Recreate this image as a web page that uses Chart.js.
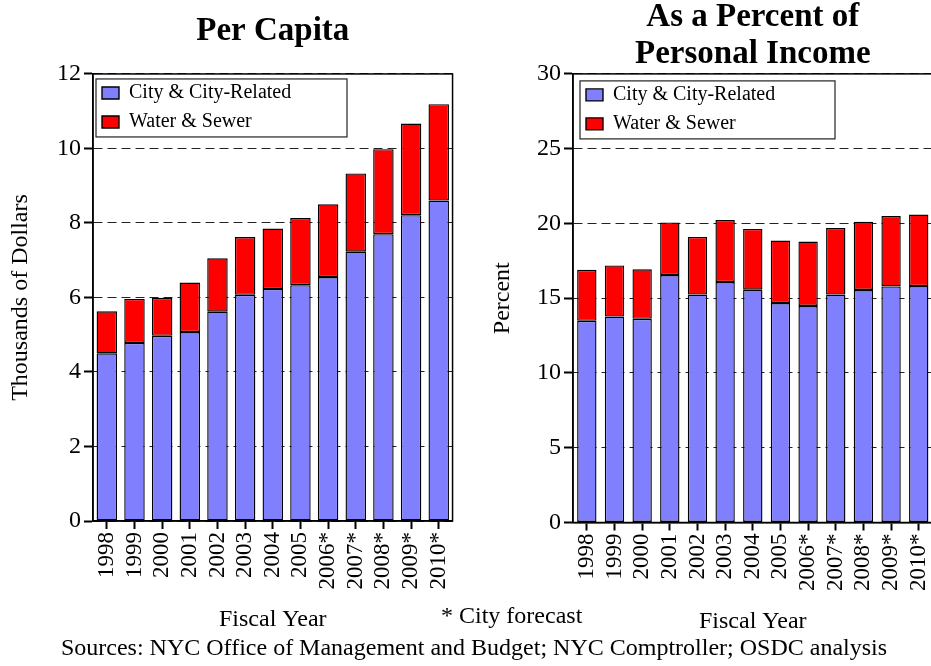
<!DOCTYPE html>
<html>
<head>
<meta charset="utf-8">
<script src="https://cdn.jsdelivr.net/npm/chart.js@4.4.1/dist/chart.umd.min.js"></script>
<style>
	html, body { margin: 0; padding: 0; background: #fff; overflow: hidden; width: 931px; height: 666px; }
	.wrap { position: relative; width: 931px; height: 666px; overflow: hidden; }
	canvas { position: absolute; }
	.note { position: absolute; font-family: 'Liberation Serif', 'Times New Roman', serif; font-size: 24px; line-height: 28px; color: #000; white-space: nowrap; }
</style>
</head>
<body>
<div class="wrap">
	<canvas id="perCapita" width="470" height="640" style="left:0;top:0"></canvas>
	<canvas id="percentIncome" width="480" height="644" style="left:470px;top:-4px"></canvas>
	<div class="note" style="left:441px;top:601px">* City forecast</div>
	<div class="note" style="left:474px;top:633px;transform:translateX(-50%)">Sources: NYC Office of Management and Budget; NYC Comptroller; OSDC analysis</div>
</div>
<script>
const years = ['1998', '1999', '2000', '2001', '2002', '2003', '2004', '2005', '2006*', '2007*', '2008*', '2009*', '2010*'];

// thousands of dollars per capita
const perCapitaCity = [4.50, 4.78, 4.97, 5.07, 5.62, 6.07, 6.23, 6.33, 6.55, 7.23, 7.70, 8.21, 8.60];
const perCapitaWater = [1.13, 1.18, 1.02, 1.33, 1.43, 1.55, 1.62, 1.80, 1.95, 2.10, 2.28, 2.46, 2.59];

// percent of personal income
const percentCity = [13.49, 13.77, 13.62, 16.55, 15.24, 16.08, 15.57, 14.68, 14.48, 15.24, 15.55, 15.79, 15.81];
const percentWater = [3.41, 3.42, 3.31, 3.52, 3.86, 4.15, 4.06, 4.18, 4.31, 4.45, 4.57, 4.70, 4.78];

const SERIF = "'Liberation Serif', 'Times New Roman', serif";
const COLORS = {
	city: '#8080ff',
	water: '#ff0000',
};

// legend sits inside the plot (chart.js leaves its top at 0 there), plus frames round plot and legend
const framePlugin = {
	id: 'frames',
	afterLayout(chart, args, opts) {
		const lg = chart.legend;
		const area = chart.chartArea;
		lg.top = area.top + opts.legendDy;
		lg.bottom = area.bottom;
		lg.left = area.left + opts.legendDx;
	},
	afterDraw(chart, args, opts) {
		const ctx = chart.ctx;
		const area = chart.chartArea;
		ctx.save();
		ctx.strokeStyle = '#000';
		ctx.lineWidth = 1.5;
		ctx.strokeRect(area.left, area.top, area.right - area.left, area.bottom - area.top);
		const boxes = chart.legend.legendHitBoxes;
		if (boxes && boxes.length) {
			const last = boxes[boxes.length - 1];
			const top = area.top + opts.dy;
			ctx.lineWidth = 1.2;
			ctx.strokeStyle = '#222';
			ctx.strokeRect(area.left + opts.dx, top, opts.width, last.top + last.height + 5 - top);
		}
		ctx.restore();
	}
};

function makeChart(id, o) {
	return new Chart(document.getElementById(id), {
		type: 'bar',
		data: {
			labels: years,
			datasets: [
				{
					label: 'City & City-Related',
					data: o.city,
					backgroundColor: COLORS.city,
					borderColor: '#000',
					borderWidth: 1.4,
					borderSkipped: false,
					barPercentage: o.barPct,
					categoryPercentage: 1,
				},
				{
					label: 'Water & Sewer',
					data: o.water,
					backgroundColor: COLORS.water,
					borderColor: '#000',
					borderWidth: 1.4,
					borderSkipped: false,
					barPercentage: o.barPct,
					categoryPercentage: 1,
				},
			]
		},
		options: {
			responsive: false,
			animation: false,
			events: [],
			layout: { padding: { left: 0, right: o.padRight, top: 0, bottom: 0 } },
			plugins: {
				title: {
					display: true,
					text: o.title,
					fullSize: false,
					color: '#000',
					font: { family: SERIF, size: 33, weight: 'bold', lineHeight: 1.15 },
					padding: o.titlePad,
				},
				legend: {
					position: 'chartArea',
					align: 'start',
					labels: {
						color: '#000',
						font: { family: SERIF, size: 20 },
						boxWidth: 17,
						boxHeight: 12,
						padding: 9,
					}
				},
				tooltip: { enabled: false },
				frames: o.frame,
			},
			scales: {
				x: {
					stacked: true,
					afterFit: (s) => { s.height = o.xHeight; },
					grid: { offset: false, drawOnChartArea: false, tickLength: 8, tickColor: '#000', tickWidth: 2 },
					border: { display: true, color: '#000', width: 1.5 },
					ticks: {
						autoSkip: false, minRotation: 90, maxRotation: 90, padding: 3,
						color: '#000', font: { family: SERIF, size: 23 }
					},
					title: {
						display: true, text: 'Fiscal Year', color: '#000',
						font: { family: SERIF, size: 24 },
						padding: { top: 0, bottom: o.xTitlePad }
					}
				},
				y: {
					stacked: true,
					min: 0,
					max: o.max,
					afterFit: (s) => { s.width = o.yWidth; },
					grid: { color: '#222', lineWidth: 1, tickLength: 9, tickColor: '#000', tickWidth: 2 },
					border: { display: true, color: '#000', width: 1.5, dash: [9, 5] },
					ticks: { stepSize: o.step, padding: 3, color: '#000', font: { family: SERIF, size: 24 } },
					title: {
						display: true, text: o.yTitle, color: '#000',
						font: { family: SERIF, size: 24 },
						padding: { top: o.yTitlePad, bottom: 0 }
					}
				}
			}
		},
		plugins: [framePlugin]
	});
}

makeChart('perCapita', {
	title: 'Per Capita',
	titlePad: { top: 12, bottom: 24 },
	city: perCapitaCity,
	water: perCapitaWater,
	max: 12, step: 2,
	yTitle: 'Thousands of Dollars',
	yWidth: 93, yTitlePad: 6,
	xHeight: 119, xTitlePad: 5.6,
	padRight: 11.5,
	barPct: 0.74,
	frame: { dx: 3, dy: 5, width: 251, legendDx: 0, legendDy: 0 },
});

makeChart('percentIncome', {
	title: ['As a Percent of', 'Personal Income'],
	titlePad: { top: 2, bottom: 0 },
	city: percentCity,
	water: percentWater,
	max: 30, step: 5,
	yTitle: 'Percent',
	yWidth: 103, yTitlePad: 18,
	xHeight: 117.5, xTitlePad: 4,
	padRight: 14,
	barPct: 0.7,
	frame: { dx: 7, dy: 7, width: 255, legendDx: 4, legendDy: 2 },
});
</script>
</body>
</html>
